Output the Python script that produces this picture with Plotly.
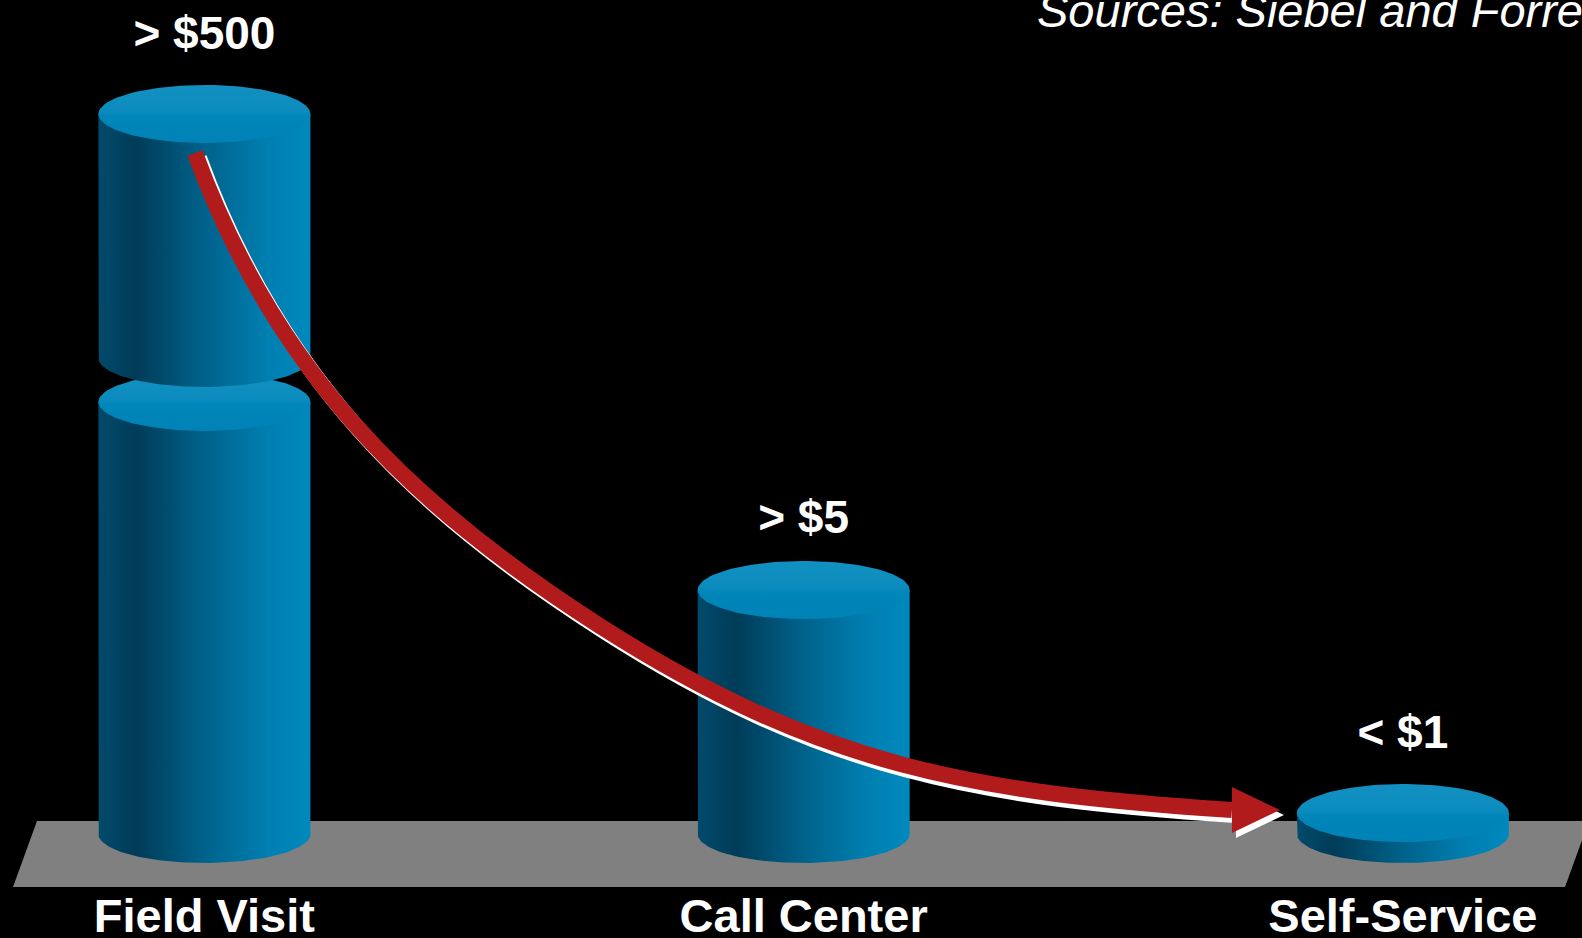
import numpy as np
import plotly.graph_objects as go

# ---------------- data ----------------
categories = ["Field Visit", "Call Center", "Self-Service"]
value_labels = ["> $500", "> $5", "< $1"]
display_heights = [720, 244, 21]          # visual bar heights (axis units); Field Visit drawn with a scale break
scale_break = [(432, 476), None, None]    # (lower segment top, upper segment bottom)
source_text = "Sources: Siebel and Forrester"

# ---------------- geometry / style ----------------
W, H = 1582, 938
X_RANGE = [-0.3411, 2.2989]
Y_RANGE = [-104, 834]
PX_X = W / (X_RANGE[1] - X_RANGE[0])      # pixels per x unit
R = 106 / PX_X                            # cylinder radius (x units)
RY = 29                                   # ellipse vertical radius (y units)
LABEL_GAP = 48
LABEL_NUDGE = [0, -8, 0]
FONT = "Liberation Sans, Arial, Helvetica, sans-serif"
SIDE_SCALE = [[0, "#024a6b"], [0.18, "#003c58"], [0.5, "#00628b"], [0.8, "#007fb1"], [1, "#0089bd"]]
CAP_SCALE = [[0, "#0082b5"], [0.45, "#0086b9"], [0.55, "#0c8cbe"], [1, "#1290c2"]]
RED = "#B21B1C"


def px2x(p):
    return X_RANGE[0] + p / PX_X


def py2y(p):
    return Y_RANGE[1] - p


fig = go.Figure()

# floor
floor_px = [(37, 821), (1589, 821), (1565, 887), (13, 887), (37, 821)]
fig.add_trace(go.Scatter(
    x=[px2x(a) for a, b in floor_px], y=[py2y(b) for a, b in floor_px],
    mode="lines", fill="toself", fillcolor="#808080", line=dict(width=0),
    hoverinfo="skip"))


def add_segment(xc, y0, y1):
    t = np.linspace(np.pi, 2 * np.pi, 80)
    xs = [xc - R] + list(xc + R * np.cos(t)) + [xc + R, xc - R]
    ys = [y1] + list(y0 + RY * np.sin(t)) + [y1, y1]
    fig.add_trace(go.Scatter(
        x=xs, y=ys, mode="lines", fill="toself", line=dict(width=0),
        fillgradient=dict(type="horizontal", colorscale=SIDE_SCALE),
        hoverinfo="skip"))
    tt = np.linspace(0, 2 * np.pi, 120)
    fig.add_trace(go.Scatter(
        x=list(xc + R * np.cos(tt)), y=list(y1 + RY * np.sin(tt)),
        mode="lines", fill="toself", line=dict(width=0),
        fillgradient=dict(type="vertical", colorscale=CAP_SCALE),
        hoverinfo="skip"))


for i, h in enumerate(display_heights):
    if scale_break[i]:
        lo, hi = scale_break[i]
        add_segment(i, 0, lo)
        add_segment(i, hi, h)
    else:
        add_segment(i, 0, h)

# value labels
fig.add_trace(go.Scatter(
    x=list(range(len(categories))),
    y=[h + RY + LABEL_GAP + n for h, n in zip(display_heights, LABEL_NUDGE)],
    mode="text", text=value_labels, textposition="middle center",
    textfont=dict(family=FONT, size=46, color="white", weight="bold"),
    cliponaxis=False, hoverinfo="skip"))

# category labels
fig.add_trace(go.Scatter(
    x=list(range(len(categories))), y=[-86] * len(categories),
    mode="text", text=categories, textposition="middle center",
    textfont=dict(family=FONT, size=47, color="white", weight="bold"),
    cliponaxis=False, hoverinfo="skip"))

# source note
fig.add_trace(go.Scatter(
    x=[px2x(1037)], y=[py2y(15)], mode="text", text=[source_text],
    textposition="middle right",
    textfont=dict(family=FONT, size=47, color="white", style="italic"),
    cliponaxis=False, hoverinfo="skip"))

# ---------------- trend arrow (illustrative decoration, in axis units) ----------------
ARROW_PATH = [(-0.0157, 681), (0.1161, 465), (0.3364, 332), (0.6601, 208),
              (1.0255, 68), (1.2817, 41), (1.7147, 24)]
head_len = 48 / PX_X
head_half = 23


def arrow_shapes(dx, dy, color):
    p = [(x + dx, y + dy) for x, y in ARROW_PATH]
    path = (f"M {p[0][0]},{p[0][1]} C {p[1][0]},{p[1][1]} {p[2][0]},{p[2][1]} {p[3][0]},{p[3][1]} "
            f"C {p[4][0]},{p[4][1]} {p[5][0]},{p[5][1]} {p[6][0]},{p[6][1]}")
    ex, ey = p[6]
    tri = (f"M {ex},{ey + head_half} L {ex + head_len},{ey} "
           f"L {ex},{ey - head_half} Z")
    return [
        dict(type="path", path=path, xref="x", yref="y",
             line=dict(color=color, width=16), fillcolor="rgba(0,0,0,0)"),
        dict(type="path", path=tri, xref="x", yref="y",
             line=dict(width=0), fillcolor=color),
    ]


shapes = arrow_shapes(4 / PX_X, -5, "white") + arrow_shapes(0, 0, RED)

fig.update_layout(
    width=W, height=H, margin=dict(l=0, r=0, t=0, b=0),
    paper_bgcolor="black", plot_bgcolor="black", showlegend=False,
    xaxis=dict(range=X_RANGE, visible=False, fixedrange=True),
    yaxis=dict(range=Y_RANGE, visible=False, fixedrange=True),
    shapes=shapes,
)

fig.write_html("out.html")
